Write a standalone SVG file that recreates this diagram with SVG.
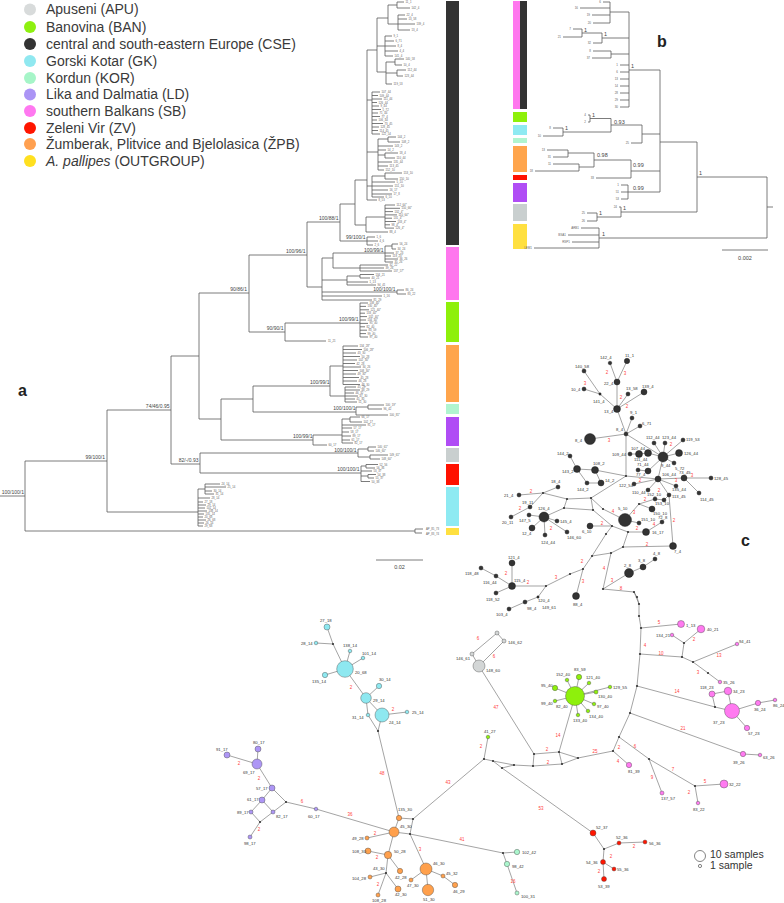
<svg xmlns="http://www.w3.org/2000/svg" width="784" height="903" viewBox="0 0 784 903">
<style>
text{font-family:"Liberation Sans",Arial,sans-serif}
.lg{font-size:14px;fill:#3a3a3a}
.br{fill:none;stroke:#5a5a5a;stroke-width:0.8}
.sp{font-size:5px;fill:#444;text-anchor:end}
.tp{font-size:2.8px;fill:#666}
.bt{font-size:3px;fill:#666;text-anchor:end}
.bs{font-size:5.5px;fill:#444}
.pl{font-size:16px;font-weight:bold;fill:#222}
.ed{fill:none;stroke:#666;stroke-width:0.6}
.rn{font-size:4.5px;fill:#ff4040;text-anchor:middle}
.nl{font-size:4.2px;fill:#333}
.jn{fill:#333}
.k{fill:#333;stroke:#111;stroke-width:0.4}
.gk{fill:#8ee8f0;stroke:#444;stroke-width:0.4}
.ld{fill:#ad96f5;stroke:#444;stroke-width:0.4}
.zp{fill:#ffa04c;stroke:#444;stroke-width:0.4}
.ap{fill:#d3d6d6;stroke:#444;stroke-width:0.4}
.bn{fill:#8ef00c;stroke:#444;stroke-width:0.4}
.sb{fill:#ff7af0;stroke:#444;stroke-width:0.4}
.zv{fill:#ff1500;stroke:#444;stroke-width:0.4}
.kr{fill:#aaf5cc;stroke:#444;stroke-width:0.4}
</style>
<rect width="784" height="903" fill="#fff"/>

<g id="legend">
<circle cx="30" cy="9.5" r="6" fill="#d8dbdb"/><text class="lg" x="46" y="14.2">Apuseni (APU)</text>
<circle cx="30" cy="27" r="6" fill="#8ef010"/><text class="lg" x="46" y="31.7">Banovina (BAN)</text>
<circle cx="30" cy="44" r="6" fill="#333"/><text class="lg" x="46" y="48.7">central and south-eastern Europe (CSE)</text>
<circle cx="30" cy="61" r="6" fill="#90e8f0"/><text class="lg" x="46" y="65.7">Gorski Kotar (GK)</text>
<circle cx="30" cy="78" r="6" fill="#a6f5c8"/><text class="lg" x="46" y="82.7">Kordun (KOR)</text>
<circle cx="30" cy="94.5" r="6" fill="#ab94f5"/><text class="lg" x="46" y="99.2">Lika and Dalmatia (LD)</text>
<circle cx="30" cy="111" r="6" fill="#ff78f0"/><text class="lg" x="46" y="115.7">southern Balkans (SB)</text>
<circle cx="30" cy="128" r="6" fill="#ff1500"/><text class="lg" x="46" y="132.7">Zeleni Vir (ZV)</text>
<circle cx="30" cy="144" r="6" fill="#ffa050"/><text class="lg" x="46" y="148.7">Žumberak, Plitvice and Bjelolasica (ŽPB)</text>
<circle cx="30" cy="161" r="6" fill="#ffe020"/><text class="lg" x="46" y="165.7"><tspan font-style="italic">A. pallipes</tspan> (OUTGROUP)</text>
</g>

<g id="tree-a">
<text class="pl" x="18" y="396">a</text>
<path class="br" d="M0,496H25 M25,461V531 M25,461H107 M25,531H415 M107,410V512 M107,512H198 M107,410H171 M171,356V464 M171,464H200 M171,356H199 M200,453V473 M200,453H358 M200,473H361 M199,293V419 M199,419H221 M199,293H249 M221,399V440 M221,399H253 M221,440H313 M253,386V412 M253,386H330 M253,412H356 M249,255V332 M249,255H307 M249,332H285 M285,323V341 M285,323H360 M285,341H326 M307,222V287 M307,222H340 M307,287H322 M340,204V241 M340,204H355 M340,241H367"/>
<g id="a-support">
<text class="sp" x="24" y="494">100/100/1</text>
<text class="sp" x="105" y="458.5">99/100/1</text>
<text class="sp" x="169.5" y="407.5">74/46/0.95</text>
<text class="sp" x="198.5" y="461.5">82/-/0.93</text>
<text class="sp" x="247" y="290.5">90/86/1</text>
<text class="sp" x="305.5" y="252.5">100/96/1</text>
<text class="sp" x="283.5" y="329.5">90/90/1</text>
<text class="sp" x="338.5" y="219.5">100/88/1</text>
<text class="sp" x="365.5" y="238.5">99/100/1</text>
<text class="sp" x="383.5" y="251.5">100/99/1</text>
<text class="sp" x="395.5" y="290.5">100/100/1</text>
<text class="sp" x="358.5" y="321">100/99/1</text>
<text class="sp" x="329.5" y="384">100/99/1</text>
<text class="sp" x="355.5" y="410">100/100/1</text>
<text class="sp" x="312.5" y="438">100/99/1</text>
<text class="sp" x="356.5" y="451.5">100/100/1</text>
<text class="sp" x="359.5" y="471">100/100/1</text>
</g>
<g id="a-cse">
<path class="br" d="M355,180V225 M355,180H367 M367,50V200 M367,50H377 M377,18V72 M377,18H388 M388,5V24 M388,5H397 M397,2V8 M397,2H404 M397,8H410 M388,24H398 M398,15V30 M398,15H405 M398,19H407 M398,24H415 M398,30H410 M377,46H385 M385,36V56 M385,36H392 M385,41H394 M385,46H396 M385,51H398 M385,56H393 M377,72H386 M386,62V84 M386,62H395 M395,59V65 M395,59H404 M395,65H402 M386,73H397 M397,70V76 M397,70H406 M397,76H403 M386,84H392 M367,100H372 M372,92V134 M372,92H380 M372,95.5H378 M372,99H382 M372,102.5H377 M372,106H379 M372,109.5H381 M372,113H378 M372,116.5H380 M372,120H377 M372,123.5H383 M372,127H379 M372,130.5H378 M372,134H380 M367,152H378 M378,139V170 M378,139H388 M388,137V142 M388,137H396 M388,142H400 M378,146H393 M378,150H386 M378,155H385 M385,153V158 M385,153H398 M385,158H395 M378,162H392 M378,166H388 M378,170H384 M367,186H372 M372,176V197 M372,176H385 M385,173V179 M385,173H402 M385,179H398 M372,182H395 M372,186H393 M372,190H388 M372,194H392 M372,197H384 M367,200H377 M355,225H366 M366,217V232 M366,217H385 M385,205V228.1 M385,205H395 M385,208.3H400 M385,211.6H393 M385,214.9H397 M385,218.2H392 M385,221.5H396 M385,224.8H390 M385,228.1H394 M366,232H388 M367,237V245 M367,237H375 M367,241H378 M367,245H373"/>
<text class="tp" x="405.5" y="3">11_1</text><text class="tp" x="411.5" y="9">142_4</text><text class="tp" x="406.5" y="16">22_4</text><text class="tp" x="408.5" y="20">13_58</text><text class="tp" x="416.5" y="25">139_4</text><text class="tp" x="411.5" y="31">13_4</text>
<text class="tp" x="393.5" y="37">9_1</text><text class="tp" x="395.5" y="42">6_71</text><text class="tp" x="397.5" y="47">8_4</text><text class="tp" x="399.5" y="52">4_4</text><text class="tp" x="394.5" y="57">141_4</text>
<text class="tp" x="405.5" y="60">140_58</text><text class="tp" x="403.5" y="66">10_4</text><text class="tp" x="407.5" y="71">112_44</text><text class="tp" x="404.5" y="77">123_44</text><text class="tp" x="393.5" y="85">119_53</text>
<text class="tp" x="381.5" y="93">107_44</text><text class="tp" x="379.5" y="96.5">109_44</text><text class="tp" x="383.5" y="100">111_44</text><text class="tp" x="378.5" y="103.5">126_44</text><text class="tp" x="380.5" y="107">9_44</text><text class="tp" x="382.5" y="110.5">5_72</text><text class="tp" x="379.5" y="114">71_44</text><text class="tp" x="381.5" y="117.5">77_4</text><text class="tp" x="378.5" y="121">106_44</text><text class="tp" x="384.5" y="124.5">73_45</text><text class="tp" x="380.5" y="128">128_45</text><text class="tp" x="379.5" y="131.5">114_45</text><text class="tp" x="381.5" y="135">122_54</text>
<text class="tp" x="397.5" y="138">144_2</text><text class="tp" x="401.5" y="143">108_2</text><text class="tp" x="394.5" y="147">143_2</text><text class="tp" x="387.5" y="151">14_2</text><text class="tp" x="399.5" y="154">18_4</text><text class="tp" x="396.5" y="159">110_44</text><text class="tp" x="393.5" y="163">135_44</text><text class="tp" x="389.5" y="167">113_45</text><text class="tp" x="385.5" y="171">152_10</text>
<text class="tp" x="403.5" y="174">153_10</text><text class="tp" x="399.5" y="180">150_10</text><text class="tp" x="396.5" y="183">5_10</text><text class="tp" x="394.5" y="187">151_10</text><text class="tp" x="389.5" y="191">16_17</text><text class="tp" x="393.5" y="195">17_8</text><text class="tp" x="385.5" y="198">6_10</text><text class="tp" x="378.5" y="201">8_53</text>
<text class="tp" x="396.5" y="206">112_64*</text><text class="tp" x="401.5" y="209.3">150_66*</text><text class="tp" x="394.5" y="212.6">132_4*</text><text class="tp" x="398.5" y="215.9">110_64*</text><text class="tp" x="393.5" y="219.2">131_4*</text><text class="tp" x="397.5" y="222.5">133_4*</text><text class="tp" x="391.5" y="225.8">98_4*</text><text class="tp" x="395.5" y="229.1">126_4*</text><text class="tp" x="389.5" y="233">88_4</text>
<text class="tp" x="376.5" y="238">1_6</text><text class="tp" x="379.5" y="242">4_6</text><text class="tp" x="374.5" y="246">2_6</text>
</g>
<g id="a-sb">
<path class="br" d="M322,258V300 M322,258H333 M333,253V268 M333,253H385 M385,246V262 M385,246H392 M392,244V249 M392,244H398 M392,249H396 M385,253H394 M385,256H391 M385,259H398 M385,262H393 M333,268H360 M360,265V271 M360,265H388 M360,268H384 M360,271H392 M322,280H347 M347,276V285 M347,276H360 M360,274.5V278 M360,274.5H374 M360,278H370 M347,282H368 M347,285H376 M322,292H397 M397,290V294 M397,290H404 M397,294H406 M322,296H382 M322,300H372"/>
<text class="tp" x="399.5" y="245">56_24</text><text class="tp" x="397.5" y="250">34_24</text><text class="tp" x="395.5" y="254">37_23</text><text class="tp" x="392.5" y="257">118_23*</text><text class="tp" x="399.5" y="260">36_26</text><text class="tp" x="394.5" y="263">35_26</text>
<text class="tp" x="389.5" y="266">32_22</text><text class="tp" x="385.5" y="269">39_26</text><text class="tp" x="393.5" y="272">137_57*</text>
<text class="tp" x="375.5" y="275.5">134_21</text><text class="tp" x="371.5" y="279">40_21</text><text class="tp" x="369.5" y="283">1_13</text><text class="tp" x="377.5" y="286">94_41</text>
<text class="tp" x="405.5" y="291">86_24</text><text class="tp" x="407.5" y="295">83_22</text><text class="tp" x="383.5" y="297">1_16</text><text class="tp" x="373.5" y="301">81_29</text>
</g>
<g id="a-ban">
<path class="br" d="M360,303V337 M360,303H368 M360,306.4H366 M360,309.8H369 M360,313.2H365 M360,316.6H367 M360,320H366 M360,323.4H368 M360,326.8H365 M360,330.2H367 M360,333.6H366 M360,337H368"/>
<text class="tp" x="369.5" y="304">138_40*</text><text class="tp" x="367.5" y="307.4">130_40*</text><text class="tp" x="370.5" y="310.8">121_40*</text><text class="tp" x="366.5" y="314.2">133_40*</text><text class="tp" x="368.5" y="317.6">132_40*</text><text class="tp" x="367.5" y="321">134_40*</text><text class="tp" x="369.5" y="324.4">95_40</text><text class="tp" x="366.5" y="327.8">82_40</text><text class="tp" x="368.5" y="331.2">83_59</text><text class="tp" x="367.5" y="334.6">99_40</text><text class="tp" x="369.5" y="338">97_40</text>
<text class="tp" x="328" y="342">11_21</text>
</g>
<g id="a-zpb">
<path class="br" d="M330,366V396 M330,366H343 M343,346V384.5 M343,346H358 M343,349.5H362 M343,353H356 M343,356.5H360 M343,360H357 M343,363.5H355 M343,367H361 M343,370.5H358 M343,374H356 M343,377.5H359 M343,381H357 M343,384.5H360 M330,396H345 M345,387V402 M345,387H356 M345,390H360 M345,393H354 M345,396H358 M345,399H355 M345,402H357"/>
<text class="tp" x="359.5" y="347">134_28*</text><text class="tp" x="363.5" y="350.5">106_28*</text><text class="tp" x="357.5" y="354">43_30</text><text class="tp" x="361.5" y="357.5">50_28</text><text class="tp" x="358.5" y="361">102_30*</text><text class="tp" x="356.5" y="364.5">42_28</text><text class="tp" x="362.5" y="368">34_26</text><text class="tp" x="359.5" y="371.5">108_30*</text><text class="tp" x="357.5" y="375">49_30*</text><text class="tp" x="360.5" y="378.5">45_28</text><text class="tp" x="358.5" y="382">46_28</text><text class="tp" x="361.5" y="385.5">48_30</text>
<text class="tp" x="357.5" y="388">45_29</text><text class="tp" x="361.5" y="391">48_29</text><text class="tp" x="355.5" y="394">46_32</text><text class="tp" x="359.5" y="397">47_30</text><text class="tp" x="356.5" y="400">45_30</text><text class="tp" x="358.5" y="403">51_30</text>
</g>
<g id="a-kor">
<path class="br" d="M356,407V415 M356,407H368 M368,405V409 M368,405H384 M368,409H382 M356,415H388"/>
<text class="tp" x="385.5" y="406">100_19*</text><text class="tp" x="383.5" y="410">96_42</text><text class="tp" x="389.5" y="416">100_81*</text>
</g>
<g id="a-ld">
<path class="br" d="M313,435V445 M313,435H342 M342,419V443 M342,419H350 M350,417V422 M350,417H360 M350,422H362 M342,425H366 M342,428H352 M342,432H349 M342,436H351 M342,440H350 M342,443H353 M313,445H327"/>
<text class="tp" x="361.5" y="418">66_17</text><text class="tp" x="363.5" y="423">102_17</text><text class="tp" x="367.5" y="426">91_17</text><text class="tp" x="353.5" y="429">57_17</text><text class="tp" x="350.5" y="433">58_17</text><text class="tp" x="352.5" y="437">89_17</text><text class="tp" x="351.5" y="441">61_17</text><text class="tp" x="354.5" y="444">82_17</text><text class="tp" x="328.5" y="446">60_17</text>
</g>
<g id="a-apu">
<path class="br" d="M358,449V457 M358,449H368 M368,447V451 M368,447H376 M368,451H374 M358,457H370 M370,455V459 M370,455H388 M370,459H380"/>
<text class="tp" x="377.5" y="448">140_61*</text><text class="tp" x="375.5" y="452">146_60*</text><text class="tp" x="389.5" y="456">149_61*</text><text class="tp" x="381.5" y="460">148_60*</text>
</g>
<g id="a-zv">
<path class="br" d="M361,466V481.5 M361,466H366 M366,464.5V468 M366,464.5H378 M366,468H375 M361,471H372 M361,476H368 M368,474.5V478 M368,474.5H376 M368,478H374 M361,481.5H370"/>
<text class="tp" x="379.5" y="465.5">52_56</text><text class="tp" x="376.5" y="469">56_36</text><text class="tp" x="373.5" y="472">53_37</text><text class="tp" x="377.5" y="475.5">54_38</text><text class="tp" x="375.5" y="479">55_37</text><text class="tp" x="371.5" y="482.5">50_38</text>
</g>
<g id="a-gk">
<path class="br" d="M198,489V526 M198,489H205 M205,484V494 M205,484H220 M205,487H226 M205,491H212 M205,494H214 M198,498H210 M198,502H203 M198,505H206 M198,508H205 M198,511H207 M198,514H204 M198,517H203 M198,520H206 M198,523H204 M198,526H203"/>
<text class="tp" x="221.5" y="485">24_14</text><text class="tp" x="227.5" y="488">25_14</text><text class="tp" x="213.5" y="492">30_14</text><text class="tp" x="215.5" y="495">31_14</text><text class="tp" x="211.5" y="499">28_14</text><text class="tp" x="204.5" y="503">27_18</text><text class="tp" x="207.5" y="506">29_14</text><text class="tp" x="206.5" y="509">101_14</text><text class="tp" x="208.5" y="512">138_14</text><text class="tp" x="205.5" y="515">135_14</text><text class="tp" x="204.5" y="518">20_68</text><text class="tp" x="207.5" y="521">26_68</text><text class="tp" x="205.5" y="524">26_14</text><text class="tp" x="204.5" y="527">29_68</text>
</g>
<g id="a-outgroup">
<path class="br" d="M415,529V533 M415,529H423 M415,533H422"/>
<text class="tp" x="426" y="530">AP_85_73</text><text class="tp" x="426" y="534.5">AP_83_74</text>
</g>
<g id="a-bars">
<rect x="446" y="1" width="13" height="244" fill="#333"/>
<rect x="446" y="247" width="13" height="53" fill="#ff77ee"/>
<rect x="446" y="302" width="13" height="40" fill="#8ef00a"/>
<rect x="446" y="345" width="13" height="57" fill="#ffa54c"/>
<rect x="446" y="404" width="13" height="10" fill="#b0f5d0"/>
<rect x="446" y="417" width="13" height="29" fill="#b04df5"/>
<rect x="446" y="448" width="13" height="14" fill="#c9cfcf"/>
<rect x="446" y="464" width="13" height="21" fill="#ff1100"/>
<rect x="446" y="487" width="13" height="39" fill="#8eeaf2"/>
<rect x="446" y="528" width="13" height="7" fill="#ffe040"/>
</g>
<g id="a-scale">
<path class="br" d="M376,560H423"/>
<text class="bs" x="399.5" y="569" text-anchor="middle">0.02</text>
</g>
</g>

<g id="tree-b">
<text class="pl" x="657" y="47">b</text>
<g id="b-bars">
<rect x="513" y="1" width="7" height="108" fill="#ff77ee"/>
<rect x="520" y="1" width="7" height="108" fill="#333"/>
<rect x="513" y="112" width="14" height="10" fill="#8ef00a"/>
<rect x="513" y="125" width="14" height="10" fill="#8eeaf2"/>
<rect x="513" y="138" width="14" height="5" fill="#b0f5d0"/>
<rect x="513" y="146" width="14" height="26" fill="#ffa54c"/>
<rect x="513" y="175" width="14" height="5" fill="#ff1100"/>
<rect x="513" y="183" width="14" height="19" fill="#b04df5"/>
<rect x="513" y="204" width="14" height="17" fill="#c9cfcf"/>
<rect x="513" y="224" width="14" height="25" fill="#ffe040"/>
</g>
<path class="br" d="M603,2H610 M580,8H610 M592,15H610 M593,23H610 M610,2V23 M610,12H629 M573,29H582 M563,37H582 M582,29V37 M582,33H602 M593,43H602 M602,33V43 M602,38H629 M593,51H611 M592,58H611 M611,51V58 M611,54H629 M620,65H629 M620,72H629 M620,79H629 M620,86H629 M620,93H629 M620,100H629 M620,107H629 M629,12V107 M629,70H660 M588,115H590 M588,122H590 M590,115V122 M590,118.5H611 M553,128H563 M543,136H563 M563,128V136 M563,132H611 M611,118.5V132 M611,125H642 M631,143H642 M642,125V143 M642,134H660 M547,150H568 M553,157H568 M568,150V157 M568,153H594 M553,164H579 M535,171H579 M579,164V171 M579,167H594 M594,153V167 M594,160H631 M596,178H631 M631,160V178 M631,171H660 M621,185H628 M621,192H628 M621,199H628 M628,185V199 M628,192H660 M660,70V192 M660,142H697 M619,207H621 M587,213H597 M587,221H597 M597,213V221 M597,217H621 M621,207V217 M621,212H697 M697,142V212 M697,177H767 M581,228H599 M568,235H599 M572,242H599 M534,248H599 M599,228V248 M599,238H767 M767,177V238 M767,207H773 M722,250H768"/>
<g id="b-tips">
<text class="bt" x="601" y="3">6</text><text class="bt" x="578" y="9">16</text><text class="bt" x="590" y="16">19</text><text class="bt" x="591" y="24">20</text><text class="bt" x="571" y="30">7</text><text class="bt" x="561" y="38">21</text><text class="bt" x="591" y="44">32</text><text class="bt" x="591" y="52">8</text><text class="bt" x="590" y="59">37</text>
<text class="bt" x="618" y="66">1</text><text class="bt" x="618" y="73">6</text><text class="bt" x="618" y="80">13</text><text class="bt" x="618" y="87">14</text><text class="bt" x="618" y="94">28</text><text class="bt" x="618" y="101">29</text><text class="bt" x="618" y="108">30</text>
<text class="bt" x="586" y="116">4</text><text class="bt" x="586" y="123">2</text><text class="bt" x="551" y="129">8</text><text class="bt" x="541" y="137">10</text><text class="bt" x="629" y="144">25</text>
<text class="bt" x="545" y="151">13</text><text class="bt" x="551" y="158">31</text><text class="bt" x="551" y="165">11</text><text class="bt" x="533" y="172">18</text><text class="bt" x="594" y="179">33</text>
<text class="bt" x="619" y="186">1</text><text class="bt" x="619" y="193">51</text><text class="bt" x="619" y="200">53</text>
<text class="bt" x="617" y="208">24</text><text class="bt" x="585" y="214">25</text><text class="bt" x="585" y="222">26</text>
<text class="bt" x="579" y="229">ARB1</text><text class="bt" x="566" y="236">BSA1</text><text class="bt" x="570" y="243">RSP1</text><text class="bt" x="532" y="249">LEM1</text>
</g>
<g id="b-support">
<text class="bs" x="584" y="32">1</text><text class="bs" x="604" y="36">1</text><text class="bs" x="631" y="68">1</text>
<text class="bs" x="592" y="117">1</text><text class="bs" x="565" y="130">1</text><text class="bs" x="614" y="124">0.93</text>
<text class="bs" x="597" y="157">0.98</text><text class="bs" x="633" y="167">0.99</text><text class="bs" x="633" y="190">0.99</text>
<text class="bs" x="599" y="215">1</text><text class="bs" x="623" y="210">1</text><text class="bs" x="699" y="175">1</text><text class="bs" x="602" y="236">1</text>
<text class="bs" x="745" y="260" text-anchor="middle">0.002</text>
</g>
</g>

<g id="network-c">
<text class="pl" x="741" y="546">c</text>
<g id="connectors">
<path class="ed" d="M584,371L600,394 M584,389L600,394 M600,394L617,409 M610,363L617,382 M627,361L617,382 M617,382L617,409 M628,394L617,409 M644,392L617,409 M617,409L626,434 M632,418L626,434 M640,426L626,434 M590,439L626,434 M626,434L626,476 M626,434L663,457 M663,457L654,443 M663,457L665,443 M663,457L683,440 M663,457L679,453 M663,457L674,463 M663,457L648,453 M648,453L639,454 M639,454L630,454 M663,457L658,479 M638,470L648,471 M648,471L663,457 M570,456L577,469 M577,469L595,470 M595,470L626,476 M577,469L587,483 M587,483L601,483 M595,470L601,483 M626,476L658,479 M658,479L684,478 M684,478L711,478 M684,478L699,493 M658,479L634,484 M658,479L648,490 M658,479L676,486 M658,479L669,495 M669,495L664,500 M664,500L655,499 M669,495L673,546 M626,476L591,498 M591,498L567,499 M567,499L543,493 M543,493L519,495 M543,493L558,487 M543,493L530,507 M530,507L511,517 M567,499L564,508 M564,508L544,517 M564,508L593,510 M591,498L593,510 M591,498L603,509 M544,517L529,515 M544,517L532,528 M544,517L545,535 M544,517L557,521 M544,517L567,532 M603,509L625,520 M625,520L639,504 M639,504L655,499 M639,504L652,509 M625,520L639,523 M593,510L612,526 M612,526L590,526 M612,526L628,532 M612,526L606,534 M628,532L646,532 M646,532L662,522 M628,532L623,547 M606,534L592,556 M592,556L611,553 M611,553L623,547 M623,547L673,546 M592,556L583,569 M583,569L576,596 M583,569L570,574 M570,574L546,586 M546,586L512,586 M546,586L538,597 M538,597L525,602 M525,602L509,609 M512,586L512,563 M512,586L496,576 M496,576L481,568 M512,586L496,593 M611,553L603,589 M603,589L629,573 M629,573L643,567 M643,567L655,559 M603,589L634,592 M634,592L637,597L639,604L639,616L641,628L640,654L637,686L630,713L619,737L613,751 M634,592L639,604 M641,628L681,624 M640,654L682,657 M682,657L684,643 M684,643L672,635 M684,643L701,629 M682,657L693,662 M693,662L737,644 M693,662L708,673 M708,673L720,682 M637,686L715,707 M715,707L712,694 M715,707L732,711 M712,694L728,691 M728,691L732,711 M732,711L758,703 M758,703L775,700 M732,711L747,728 M630,713L743,754 M743,754L760,755 M619,737L649,759 M649,759L662,793 M649,759L695,786 M695,786L724,784 M695,786L698,803 M613,751L629,765 M613,751L578,758 M578,758L559,752 M578,758L562,764 M559,752L562,764 M559,752L534,754 M562,764L533,766 M534,754L533,766 M559,752L575,696 M479,666L534,754 M533,766L514,765 M514,765L493,761 M493,761L484,759 M493,761L502,768 M502,768L514,765 M502,768L593,833 M484,759L488,737 M484,759L413,819 M575,696L567,680 M575,696L579,677 M575,696L589,683 M575,696L610,687 M575,696L596,692 M575,696L594,704 M575,696L588,711 M575,696L578,715 M575,696L555,701 M575,696L555,688 M472,654L479,666 M472,654L497,633 M497,633L504,641 M504,641L479,666 M593,833L604,849 M604,849L619,843 M619,843L645,842 M604,849L603,862 M603,862L604,879 M603,862L614,869 M410,834L503,853 M503,853L517,852 M503,853L507,864 M507,864L517,893 M413,819L399,818 M413,819L410,834 M410,834L394,832 M399,818L394,832 M410,834L426,869 M399,818L378,731 M394,832L367,838 M394,832L388,855 M388,855L368,851 M388,855L400,871 M388,855L386,873 M386,873L370,877 M386,873L398,889 M386,873L378,895 M426,869L411,880 M426,869L428,890 M426,869L443,876 M443,876L455,885 M394,832L316,809 M316,809L286,802 M286,802L272,788 M286,802L273,812 M272,788L262,800 M262,800L251,812 M251,812L260,822 M273,812L260,822 M262,800L273,812 M272,788L257,764 M257,764L227,755 M257,764L258,749 M260,822L250,837 M378,731L368,715 M378,731L382,715 M368,715L366,698 M366,698L382,715 M382,715L407,712 M366,698L379,686 M366,698L345,669 M345,669L325,675 M345,669L363,658 M345,669L350,651 M345,669L333,644 M333,644L316,643 M333,644L327,627"/>
</g>
<g id="mutations">
<text class="rn" x="585" y="384.5">3</text><text class="rn" x="607" y="373.5">2</text><text class="rn" x="625" y="374.5">3</text><text class="rn" x="621" y="398.5">2</text><text class="rn" x="627" y="407.5">2</text><text class="rn" x="609" y="441.5">3</text><text class="rn" x="671" y="445.5">2</text><text class="rn" x="640" y="481.5">2</text><text class="rn" x="676" y="482">3</text><text class="rn" x="692" y="477">3</text><text class="rn" x="659" y="491.5">2</text><text class="rn" x="674" y="521.5">2</text><text class="rn" x="531" y="492.5">2</text><text class="rn" x="520" y="510">2</text><text class="rn" x="551" y="529.5">2</text><text class="rn" x="613" y="512.5">4</text><text class="rn" x="634" y="514">3</text><text class="rn" x="645" y="501">2</text><text class="rn" x="602" y="524.5">2</text><text class="rn" x="637" y="530">2</text><text class="rn" x="654" y="526">4</text><text class="rn" x="647" y="546">2</text><text class="rn" x="582" y="563">2</text><text class="rn" x="583" y="583">3</text><text class="rn" x="556" y="579">3</text><text class="rn" x="528" y="584">2</text><text class="rn" x="506" y="575">2</text><text class="rn" x="604" y="570">4</text><text class="rn" x="612" y="582">3</text><text class="rn" x="621" y="590">8</text>
<text class="rn" x="659" y="623.5">5</text><text class="rn" x="694" y="640.5">2</text><text class="rn" x="645" y="646.5">4</text><text class="rn" x="661" y="654.5">10</text><text class="rn" x="719" y="656.5">13</text><text class="rn" x="698" y="673.5">3</text><text class="rn" x="677" y="692.5">14</text><text class="rn" x="683" y="729.5">21</text><text class="rn" x="635" y="747.5">6</text><text class="rn" x="619" y="748.5">2</text><text class="rn" x="618" y="762.5">4</text><text class="rn" x="652" y="778.5">9</text><text class="rn" x="673" y="770.5">7</text><text class="rn" x="705" y="782.5">5</text><text class="rn" x="689" y="793.5">2</text><text class="rn" x="595" y="752.5">25</text>
<text class="rn" x="547" y="750.5">2</text><text class="rn" x="548" y="763.5">2</text><text class="rn" x="558" y="736.5">14</text><text class="rn" x="496" y="708.5">47</text><text class="rn" x="478" y="639.5">6</text><text class="rn" x="494" y="657.5">6</text><text class="rn" x="481" y="747.5">2</text><text class="rn" x="448" y="783.5">43</text><text class="rn" x="541" y="809.5">53</text>
<text class="rn" x="634" y="847.5">2</text><text class="rn" x="611" y="858">2</text><text class="rn" x="599" y="873">2</text><text class="rn" x="462" y="840.5">41</text><text class="rn" x="513" y="882.5">16</text>
<text class="rn" x="420" y="850.5">3</text><text class="rn" x="375" y="834.5">2</text><text class="rn" x="377" y="858.5">2</text><text class="rn" x="378" y="885.5">2</text><text class="rn" x="382" y="774.5">48</text><text class="rn" x="350" y="815.5">36</text><text class="rn" x="302" y="802.5">6</text>
<text class="rn" x="239" y="764.5">2</text><text class="rn" x="259" y="779.5">2</text><text class="rn" x="259" y="830.5">2</text><text class="rn" x="351" y="688.5">2</text><text class="rn" x="393" y="710.5">2</text>
</g>
<g id="median-vectors">
<circle class="jn" cx="626" cy="476" r="1.1"/><circle class="jn" cx="543" cy="493" r="1.1"/><circle class="jn" cx="567" cy="499" r="1.1"/><circle class="jn" cx="591" cy="498" r="1.1"/><circle class="jn" cx="564" cy="508" r="1.1"/><circle class="jn" cx="593" cy="510" r="1.1"/><circle class="jn" cx="603" cy="509" r="1.1"/><circle class="jn" cx="639" cy="504" r="1.1"/><circle class="jn" cx="612" cy="526" r="1.1"/><circle class="jn" cx="628" cy="532" r="1.1"/><circle class="jn" cx="606" cy="534" r="1.1"/><circle class="jn" cx="623" cy="547" r="1.1"/><circle class="jn" cx="592" cy="556" r="1.1"/><circle class="jn" cx="611" cy="553" r="1.1"/><circle class="jn" cx="583" cy="569" r="1.1"/><circle class="jn" cx="570" cy="574" r="1.1"/><circle class="jn" cx="546" cy="586" r="1.1"/><circle class="jn" cx="603" cy="589" r="1.1"/><circle class="jn" cx="634" cy="592" r="1.1"/><circle class="jn" cx="637" cy="597" r="1.1"/><circle class="jn" cx="639" cy="604" r="1.1"/><circle class="jn" cx="639" cy="616" r="1.1"/><circle class="jn" cx="641" cy="628" r="1.1"/><circle class="jn" cx="640" cy="654" r="1.1"/><circle class="jn" cx="637" cy="686" r="1.1"/><circle class="jn" cx="630" cy="713" r="1.1"/><circle class="jn" cx="619" cy="737" r="1.1"/><circle class="jn" cx="613" cy="751" r="1.1"/><circle class="jn" cx="684" cy="643" r="1.1"/><circle class="jn" cx="682" cy="657" r="1.1"/><circle class="jn" cx="693" cy="662" r="1.1"/><circle class="jn" cx="708" cy="673" r="1.1"/><circle class="jn" cx="715" cy="707" r="1.1"/><circle class="jn" cx="649" cy="759" r="1.1"/><circle class="jn" cx="695" cy="786" r="1.1"/><circle class="jn" cx="578" cy="758" r="1.1"/><circle class="jn" cx="559" cy="752" r="1.1"/><circle class="jn" cx="562" cy="764" r="1.1"/><circle class="jn" cx="534" cy="754" r="1.1"/><circle class="jn" cx="533" cy="766" r="1.1"/><circle class="jn" cx="514" cy="765" r="1.1"/><circle class="jn" cx="502" cy="768" r="1.1"/><circle class="jn" cx="493" cy="761" r="1.1"/><circle class="jn" cx="484" cy="759" r="1.1"/><circle class="jn" cx="604" cy="849" r="1.1"/><circle class="jn" cx="503" cy="853" r="1.1"/><circle class="jn" cx="413" cy="819" r="1.1"/><circle class="jn" cx="410" cy="834" r="1.1"/><circle class="jn" cx="386" cy="873" r="1.1"/><circle class="jn" cx="378" cy="731" r="1.1"/><circle class="jn" cx="333" cy="644" r="1.1"/><circle class="jn" cx="286" cy="802" r="1.1"/><circle class="jn" cx="260" cy="822" r="1.1"/>
</g>
<g id="cse-nodes">
<g id="h-142_4"><circle class="k" cx="610" cy="363" r="1.8"/><text class="nl" x="600" y="358.5">142_4</text></g>
<g id="h-11_1"><circle class="k" cx="627" cy="361" r="2.7"/><text class="nl" x="625" y="357">11_1</text></g>
<g id="h-140_58"><circle class="k" cx="584" cy="371" r="2"/><text class="nl" x="575" y="367.5">140_58</text></g>
<g id="h-22_4"><circle class="k" cx="617" cy="382" r="3"/><text class="nl" x="604" y="385">22_4</text></g>
<g id="h-13_58"><circle class="k" cx="628" cy="394" r="2"/><text class="nl" x="626" y="390">13_58</text></g>
<g id="h-139_4"><circle class="k" cx="644" cy="392" r="3"/><text class="nl" x="642" y="388">139_4</text></g>
<g id="h-10_4"><circle class="k" cx="584" cy="389" r="2"/><text class="nl" x="571" y="390.5">10_4</text></g>
<g id="h-141_4"><circle class="k" cx="600" cy="394" r="1.2"/><text class="nl" x="593" y="402.5">141_4</text></g>
<g id="h-13_4"><circle class="k" cx="617" cy="409" r="3.5"/><text class="nl" x="604" y="413">13_4</text></g>
<g id="h-9_1"><circle class="k" cx="632" cy="418" r="2"/><text class="nl" x="630" y="414">9_1</text></g>
<g id="h-6_71"><circle class="k" cx="640" cy="426" r="2"/><text class="nl" x="642" y="424.5">6_71</text></g>
<g id="h-8_4a"><circle class="k" cx="626" cy="434" r="2"/><text class="nl" x="616" y="431">8_4</text></g>
<g id="h-8_4b"><circle class="k" cx="590" cy="439" r="5.5"/><text class="nl" x="575" y="442">8_4</text></g>
<g id="h-112_44"><circle class="k" cx="654" cy="443" r="2"/><text class="nl" x="646" y="439">112_44</text></g>
<g id="h-123_44"><circle class="k" cx="665" cy="443" r="2"/><text class="nl" x="662" y="439">123_44</text></g>
<g id="h-119_53"><circle class="k" cx="683" cy="440" r="2"/><text class="nl" x="686" y="440.5">119_53</text></g>
<g id="h-107_44"><circle class="k" cx="639" cy="454" r="3.5"/><text class="nl" x="631" y="450">107_44</text></g>
<g id="h-109_44"><circle class="k" cx="630" cy="454" r="2"/><text class="nl" x="612" y="455.5">109_44</text></g>
<g id="h-111_44"><circle class="k" cx="648" cy="453" r="3.5"/><text class="nl" x="634" y="461">111_44</text></g>
<g id="h-126_44"><circle class="k" cx="679" cy="453" r="3.5"/><text class="nl" x="684" y="454.5">126_44</text></g>
<g id="h-9_44"><circle class="k" cx="663" cy="457" r="5"/><text class="nl" x="661" y="466.5">9_44</text></g>
<g id="h-5_72"><circle class="k" cx="674" cy="463" r="2"/><text class="nl" x="675" y="469.5">5_72</text></g>
<g id="h-71_44"><circle class="k" cx="638" cy="470" r="2"/><text class="nl" x="637" y="466">71_44</text></g>
<g id="h-77_4"><circle class="k" cx="648" cy="471" r="3"/><text class="nl" x="636" y="475.5">77_4</text></g>
<g id="h-144_2a"><circle class="k" cx="570" cy="456" r="2"/><text class="nl" x="557" y="454.5">144_2</text></g>
<g id="h-108_2"><circle class="k" cx="595" cy="470" r="3.5"/><text class="nl" x="593" y="465">108_2</text></g>
<g id="h-143_2"><circle class="k" cx="577" cy="469" r="3.5"/><text class="nl" x="562" y="472.5">143_2</text></g>
<g id="h-106_44"><circle class="k" cx="658" cy="479" r="3"/><text class="nl" x="662" y="475.5">106_44</text></g>
<g id="h-73_45"><circle class="k" cx="684" cy="478" r="3"/><text class="nl" x="679" y="473.5">73_45</text></g>
<g id="h-128_45"><circle class="k" cx="711" cy="478" r="2"/><text class="nl" x="714" y="479.5">128_45</text></g>
<g id="h-114_45"><circle class="k" cx="699" cy="493" r="2"/><text class="nl" x="700" y="500.5">114_45</text></g>
<g id="h-122_54"><circle class="k" cx="634" cy="484" r="2"/><text class="nl" x="619" y="486.5">122_54</text></g>
<g id="h-18_4"><circle class="k" cx="558" cy="487" r="2"/><text class="nl" x="551" y="482.5">18_4</text></g>
<g id="h-144_2b"><circle class="k" cx="587" cy="483" r="2"/><text class="nl" x="577" y="490.5">144_2</text></g>
<g id="h-14_2"><circle class="k" cx="601" cy="483" r="3"/><text class="nl" x="605" y="481.5">14_2</text></g>
<g id="h-110_44"><circle class="k" cx="648" cy="490" r="2"/><text class="nl" x="632" y="493.5">110_44</text></g>
<g id="h-135_44"><circle class="k" cx="676" cy="486" r="2"/><text class="nl" x="672" y="490.5">135_44</text></g>
<g id="h-152_10"><circle class="k" cx="655" cy="499" r="2"/><text class="nl" x="647" y="496">152_10</text></g>
<g id="h-113_45"><circle class="k" cx="669" cy="495" r="2"/><text class="nl" x="672" y="497.5">113_45</text></g>
<g id="h-153_10"><circle class="k" cx="664" cy="500" r="2"/><text class="nl" x="655" y="504.5">153_10</text></g>
<g id="h-150_10"><circle class="k" cx="652" cy="509" r="3"/><text class="nl" x="653" y="515">150_10</text></g>
<g id="h-5_10"><circle class="k" cx="625" cy="520" r="6.5"/><text class="nl" x="618" y="510">5_10</text></g>
<g id="h-151_10"><circle class="k" cx="639" cy="523" r="2"/><text class="nl" x="641" y="520.5">151_10</text></g>
<g id="h-72_8"><circle class="k" cx="662" cy="522" r="2"/><text class="nl" x="658" y="518.5">72_8</text></g>
<g id="h-16_17"><circle class="k" cx="646" cy="532" r="3.5"/><text class="nl" x="652" y="534">16_17</text></g>
<g id="h-6_10"><circle class="k" cx="590" cy="526" r="3"/><text class="nl" x="582" y="533">6_10</text></g>
<g id="h-7_4"><circle class="k" cx="673" cy="546" r="3.5"/><text class="nl" x="674" y="553">7_4</text></g>
<g id="h-21_4"><circle class="k" cx="519" cy="495" r="2"/><text class="nl" x="504" y="496.5">21_4</text></g>
<g id="h-19_11"><circle class="k" cx="530" cy="507" r="2"/><text class="nl" x="522" y="503.5">19_11</text></g>
<g id="h-126_4"><circle class="k" cx="544" cy="517" r="5"/><text class="nl" x="538" y="510">126_4</text></g>
<g id="h-20_11"><circle class="k" cx="511" cy="517" r="2"/><text class="nl" x="502" y="523.5">20_11</text></g>
<g id="h-147_5"><circle class="k" cx="529" cy="515" r="2"/><text class="nl" x="519" y="521.5">147_5</text></g>
<g id="h-145_4"><circle class="k" cx="557" cy="521" r="2"/><text class="nl" x="560" y="522.5">145_4</text></g>
<g id="h-12_4"><circle class="k" cx="532" cy="528" r="3"/><text class="nl" x="522" y="534.5">12_4</text></g>
<g id="h-124_44"><circle class="k" cx="545" cy="535" r="2"/><text class="nl" x="541" y="543.5">124_44</text></g>
<g id="h-146_60"><circle class="k" cx="567" cy="532" r="2"/><text class="nl" x="567" y="538.5">146_60</text></g>
<g id="h-115_4"><circle class="k" cx="512" cy="586" r="3.5"/><text class="nl" x="514" y="581.5">115_4</text></g>
<g id="h-121_4"><circle class="k" cx="512" cy="563" r="3"/><text class="nl" x="508" y="558.5">121_4</text></g>
<g id="h-118_48"><circle class="k" cx="481" cy="568" r="2"/><text class="nl" x="465" y="574.5">118_48</text></g>
<g id="h-116_44"><circle class="k" cx="496" cy="576" r="2"/><text class="nl" x="483" y="583.5">116_44</text></g>
<g id="h-118_52"><circle class="k" cx="496" cy="593" r="2"/><text class="nl" x="486" y="600.5">118_52</text></g>
<g id="h-120_4"><circle class="k" cx="538" cy="597" r="1.2"/><text class="nl" x="538" y="601.5">120_4</text></g>
<g id="h-149_61"><text class="nl" x="542" y="608.5">149_61</text></g>
<g id="h-98_4"><circle class="k" cx="525" cy="602" r="2"/><text class="nl" x="527" y="609.5">98_4</text></g>
<g id="h-103_4"><circle class="k" cx="509" cy="609" r="2"/><text class="nl" x="496" y="615.5">103_4</text></g>
<g id="h-88_4"><circle class="k" cx="576" cy="596" r="3.5"/><text class="nl" x="573" y="605.5">88_4</text></g>
<g id="h-2_8"><circle class="k" cx="629" cy="573" r="4.5"/><text class="nl" x="624" y="567">2_8</text></g>
<g id="h-3_8"><circle class="k" cx="643" cy="567" r="3"/><text class="nl" x="638" y="562">3_8</text></g>
<g id="h-4_8"><circle class="k" cx="655" cy="559" r="2"/><text class="nl" x="653" y="554.5">4_8</text></g>
</g>
<g id="sb-nodes">
<g id="h-1_13"><circle class="sb" cx="681" cy="624" r="3.5"/><text class="nl" x="686" y="626.5">1_13</text></g>
<g id="h-40_21"><circle class="sb" cx="701" cy="629" r="3.8"/><text class="nl" x="707" y="630.5">40_21</text></g>
<g id="h-134_21"><circle class="sb" cx="672" cy="635" r="1.8"/><text class="nl" x="656" y="636.5">134_21</text></g>
<g id="h-94_41"><circle class="sb" cx="737" cy="644" r="1.8"/><text class="nl" x="739" y="642.5">94_41</text></g>
<g id="h-35_26"><circle class="sb" cx="720" cy="682" r="1.8"/><text class="nl" x="723" y="683.5">35_26</text></g>
<g id="h-118_23"><circle class="sb" cx="712" cy="694" r="3"/><text class="nl" x="700" y="688.5">118_23</text></g>
<g id="h-34_23"><circle class="sb" cx="728" cy="691" r="3.8"/><text class="nl" x="733" y="692.5">34_23</text></g>
<g id="h-37_23"><circle class="sb" cx="732" cy="711" r="7.5"/><text class="nl" x="713" y="723.5">37_23</text></g>
<g id="h-36_24"><circle class="sb" cx="758" cy="703" r="2.7"/><text class="nl" x="754" y="710.5">36_24</text></g>
<g id="h-86_24"><circle class="sb" cx="775" cy="700" r="1.8"/><text class="nl" x="773" y="706.5">86_24</text></g>
<g id="h-57_23"><circle class="sb" cx="747" cy="728" r="2.7"/><text class="nl" x="748" y="734.5">57_23</text></g>
<g id="h-39_26"><circle class="sb" cx="743" cy="754" r="2.7"/><text class="nl" x="733" y="763.5">39_26</text></g>
<g id="h-63_26"><circle class="sb" cx="760" cy="755" r="1.8"/><text class="nl" x="763" y="758.5">63_26</text></g>
<g id="h-81_39"><circle class="sb" cx="629" cy="765" r="2.7"/><text class="nl" x="628" y="772.5">81_39</text></g>
<g id="h-137_57"><circle class="sb" cx="662" cy="793" r="2"/><text class="nl" x="661" y="799.5">137_57</text></g>
<g id="h-32_22"><circle class="sb" cx="724" cy="784" r="4"/><text class="nl" x="729" y="785.5">32_22</text></g>
<g id="h-83_22"><circle class="sb" cx="698" cy="803" r="1.8"/><text class="nl" x="693" y="810.5">83_22</text></g>
</g>
<g id="apu-nodes">
<g id="h-148_60"><circle class="ap" cx="479" cy="666" r="6"/><text class="nl" x="486" y="671.5">148_60</text></g>
<g id="h-146_61"><circle class="ap" cx="472" cy="654" r="2"/><text class="nl" x="456" y="659.5">146_61</text></g>
<g id="h-apu3"><circle class="ap" cx="497" cy="633" r="2"/></g>
<g id="h-146_62"><circle class="ap" cx="504" cy="641" r="2"/><text class="nl" x="508" y="644">146_62</text></g>
</g>
<g id="ban-nodes">
<g id="h-82_40"><circle class="bn" cx="575" cy="696" r="9.5"/><text class="nl" x="556" y="708">82_40</text></g>
<g id="h-152_40"><circle class="bn" cx="567" cy="680" r="1.8"/><text class="nl" x="556" y="676">152_40</text></g>
<g id="h-83_59"><circle class="bn" cx="579" cy="677" r="2.7"/><text class="nl" x="574" y="671">83_59</text></g>
<g id="h-121_40"><circle class="bn" cx="589" cy="683" r="1.8"/><text class="nl" x="586" y="679">121_40</text></g>
<g id="h-129_55"><circle class="bn" cx="610" cy="687" r="1.8"/><text class="nl" x="613" y="688.5">129_55</text></g>
<g id="h-130_40"><circle class="bn" cx="596" cy="692" r="2"/><text class="nl" x="598" y="697.5">130_40</text></g>
<g id="h-97_40"><circle class="bn" cx="594" cy="704" r="1.8"/><text class="nl" x="597" y="707.5">97_40</text></g>
<g id="h-134_40"><circle class="bn" cx="588" cy="711" r="1.8"/><text class="nl" x="589" y="717.5">134_40</text></g>
<g id="h-133_40"><circle class="bn" cx="578" cy="715" r="1.8"/><text class="nl" x="573" y="721.5">133_40</text></g>
<g id="h-99_40"><circle class="bn" cx="555" cy="701" r="1.8"/><text class="nl" x="541" y="704.5">99_40</text></g>
<g id="h-95_40"><circle class="bn" cx="555" cy="688" r="2.7"/><text class="nl" x="541" y="686.5">95_40</text></g>
<g id="h-41_27"><circle class="bn" cx="488" cy="737" r="1.8"/><text class="nl" x="484" y="732.5">41_27</text></g>
</g>
<g id="zv-nodes">
<g id="h-52_37"><circle class="zv" cx="593" cy="833" r="3"/><text class="nl" x="596" y="828.5">52_37</text></g>
<g id="h-52_36"><circle class="zv" cx="619" cy="843" r="2"/><text class="nl" x="616" y="839">52_36</text></g>
<g id="h-56_36"><circle class="zv" cx="645" cy="842" r="2"/><text class="nl" x="649" y="844.5">56_36</text></g>
<g id="h-54_36"><circle class="zv" cx="603" cy="862" r="2.5"/><text class="nl" x="586" y="864">54_36</text></g>
<g id="h-55_36"><circle class="zv" cx="614" cy="869" r="2"/><text class="nl" x="617" y="871">55_36</text></g>
<g id="h-53_39"><circle class="zv" cx="604" cy="879" r="2.5"/><text class="nl" x="598" y="887.5">53_39</text></g>
</g>
<g id="kor-nodes">
<g id="h-102_42"><circle class="kr" cx="517" cy="852" r="2.7"/><text class="nl" x="522" y="853.5">102_42</text></g>
<g id="h-98_42"><circle class="kr" cx="507" cy="864" r="2.7"/><text class="nl" x="512" y="867.5">98_42</text></g>
<g id="h-100_31"><circle class="kr" cx="517" cy="893" r="2"/><text class="nl" x="521" y="898">100_31</text></g>
</g>
<g id="zpb-nodes">
<g id="h-135_30"><circle class="zp" cx="399" cy="818" r="2.7"/><text class="nl" x="398" y="811">135_30</text></g>
<g id="h-45_30"><circle class="zp" cx="394" cy="832" r="5"/><text class="nl" x="400" y="828">45_30</text></g>
<g id="h-49_28"><circle class="zp" cx="367" cy="838" r="2"/><text class="nl" x="352" y="839.5">49_28</text></g>
<g id="h-108_30"><circle class="zp" cx="368" cy="851" r="3"/><text class="nl" x="352" y="853">108_30</text></g>
<g id="h-50_28"><circle class="zp" cx="388" cy="855" r="3.7"/><text class="nl" x="394" y="852.5">50_28</text></g>
<g id="h-42_28"><circle class="zp" cx="400" cy="871" r="2.7"/><text class="nl" x="395" y="878.5">42_28</text></g>
<g id="h-43_30"><text class="nl" x="373" y="869.5">43_30</text></g>
<g id="h-104_28"><circle class="zp" cx="370" cy="877" r="2"/><text class="nl" x="352" y="879.5">104_28</text></g>
<g id="h-42_30"><circle class="zp" cx="398" cy="889" r="3"/><text class="nl" x="395" y="895.5">42_30</text></g>
<g id="h-108_28"><circle class="zp" cx="378" cy="895" r="2"/><text class="nl" x="372" y="902">108_28</text></g>
<g id="h-46_30"><circle class="zp" cx="426" cy="869" r="6"/><text class="nl" x="433" y="864.5">46_30</text></g>
<g id="h-47_30"><circle class="zp" cx="411" cy="880" r="2"/><text class="nl" x="407" y="886.5">47_30</text></g>
<g id="h-51_30"><circle class="zp" cx="428" cy="890" r="5.7"/><text class="nl" x="423" y="900.5">51_30</text></g>
<g id="h-45_32"><circle class="zp" cx="443" cy="876" r="2"/><text class="nl" x="446" y="874.5">45_32</text></g>
<g id="h-46_29"><circle class="zp" cx="455" cy="885" r="2.7"/><text class="nl" x="453" y="892.5">46_29</text></g>
</g>
<g id="gk-nodes">
<g id="h-27_18"><circle class="gk" cx="327" cy="627" r="3"/><text class="nl" x="320" y="621.5">27_18</text></g>
<g id="h-28_14"><circle class="gk" cx="316" cy="643" r="1.8"/><text class="nl" x="301" y="644.5">28_14</text></g>
<g id="h-138_14"><circle class="gk" cx="350" cy="651" r="1.8"/><text class="nl" x="343" y="646.5">138_14</text></g>
<g id="h-101_14"><circle class="gk" cx="363" cy="658" r="1.8"/><text class="nl" x="362" y="655">101_14</text></g>
<g id="h-20_68"><circle class="gk" cx="345" cy="669" r="8.3"/><text class="nl" x="355" y="673.5">20_68</text></g>
<g id="h-135_14"><circle class="gk" cx="325" cy="675" r="2.7"/><text class="nl" x="312" y="682.5">135_14</text></g>
<g id="h-30_14"><circle class="gk" cx="379" cy="686" r="2.7"/><text class="nl" x="379" y="680.5">30_14</text></g>
<g id="h-29_14"><circle class="gk" cx="366" cy="698" r="5.3"/><text class="nl" x="373" y="701.5">29_14</text></g>
<g id="h-24_14"><circle class="gk" cx="382" cy="715" r="7"/><text class="nl" x="389" y="723.5">24_14</text></g>
<g id="h-25_14"><circle class="gk" cx="407" cy="712" r="1.8"/><text class="nl" x="412" y="714">25_14</text></g>
<g id="h-31_14"><circle class="gk" cx="368" cy="715" r="1.8"/><text class="nl" x="352" y="718.5">31_14</text></g>
</g>
<g id="ld-nodes">
<g id="h-91_17"><circle class="ld" cx="227" cy="755" r="3"/><text class="nl" x="216" y="750.5">91_17</text></g>
<g id="h-80_17"><circle class="ld" cx="258" cy="749" r="3"/><text class="nl" x="253" y="743.5">80_17</text></g>
<g id="h-69_17"><circle class="ld" cx="257" cy="764" r="5"/><text class="nl" x="243" y="773.5">69_17</text></g>
<g id="h-57_17"><circle class="ld" cx="272" cy="788" r="3"/><text class="nl" x="256" y="789.5">57_17</text></g>
<g id="h-61_17"><circle class="ld" cx="262" cy="800" r="3"/><text class="nl" x="247" y="800.5">61_17</text></g>
<g id="h-89_17"><circle class="ld" cx="251" cy="812" r="2"/><text class="nl" x="237" y="813.5">89_17</text></g>
<g id="h-82_17"><circle class="ld" cx="273" cy="812" r="2"/><text class="nl" x="276" y="817.5">82_17</text></g>
<g id="h-98_17"><circle class="ld" cx="250" cy="837" r="2"/><text class="nl" x="244" y="844.5">98_17</text></g>
<g id="h-60_17"><circle class="ld" cx="316" cy="809" r="1.8"/><text class="nl" x="308" y="817.5">60_17</text></g>
</g>
<g id="size-legend">
<circle cx="700" cy="856" r="5.5" fill="#fff" stroke="#333" stroke-width="0.6"/>
<circle cx="700" cy="866" r="1.6" fill="#fff" stroke="#333" stroke-width="0.6"/>
<text x="710" y="857.5" font-size="10.5" fill="#333">10 samples</text>
<text x="710" y="869" font-size="10.5" fill="#333">1 sample</text>
</g>
</g>
</svg>
